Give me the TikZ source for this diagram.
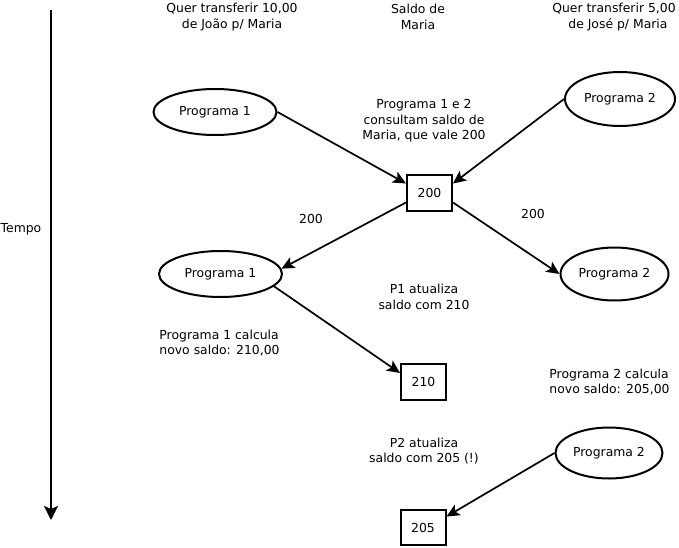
\documentclass[tikz,border=0pt]{standalone}
\usepackage{fontspec}
\setmainfont{DejaVu Sans}
\usetikzlibrary{shapes.geometric,arrows.meta,positioning}

\begin{document}
\begin{tikzpicture}[x=1pt, y=-1pt,
    every node/.style={font=\fontsize{12.4}{15.5}\selectfont, inner sep=0pt},
    prog/.style={draw, ellipse, line width=2pt, minimum width=123pt, minimum height=46pt},
    saldo/.style={draw, rectangle, line width=2pt, minimum width=45pt, minimum height=36pt},
    nota/.style={align=center},
    seta/.style={line width=1.7pt, -{Stealth[length=13pt, width=12pt, inset=3pt]}}]
    \useasboundingbox (0, 0) rectangle (679, 548);

    % eixo do tempo
    \coordinate (t0) at (51, 10);
    \coordinate (t1) at (51, 520);
    \draw [line width=2pt, -{Stealth[length=14pt, width=14pt, inset=3pt]}] (t0) -- (t1);
    \node (tempo) at (21, 229) {Tempo};

    % cabecalhos
    \node [nota] (h1) at (232, 17) {Quer transferir 10,00\\de João p/ Maria};
    \node [nota] (h2) at (418, 17) {Saldo de\\Maria};
    \node [nota] (h3) at (614, 17) {Quer transferir 5,00\\\ \ de José p/ Maria};

    % programas e saldos
    \node [prog] (p1a) at (215, 112) {Programa 1};
    \node [prog, minimum width=110pt, minimum height=54pt] (p2a) at (620, 99) {Programa 2};
    \node [saldo] (s200) at (429.5, 193) {200};
    \node [prog] (p1b) at (220.5, 274) {Programa 1};
    \node [prog, minimum width=108pt, minimum height=53pt] (p2b) at (614.5, 274) {Programa 2};
    \node [saldo] (s210) at (423.5, 382) {210};
    \node [prog, minimum width=107pt, minimum height=51pt] (p2c) at (609, 453) {Programa 2};
    \node [saldo, minimum height=35pt] (s205) at (423, 527.5) {205};

    % notas
    \node [nota] (n1) at (424, 121) {Programa 1 e 2\\consultam saldo de\\Maria, que vale 200};
    \node (v1) at (311, 219) {200};
    \node (v2) at (533, 214) {200};
    \node [nota] (n2) at (424, 297) {P1 atualiza\\saldo com 210};
    \node [align=left] (n3) at (219.5, 343) {Programa 1 calcula\\novo saldo: 210,00};
    \node [align=left] (n4) at (609.5, 382) {Programa 2 calcula\\novo saldo: 205,00};
    \node [nota] (n5) at (424, 451) {P2 atualiza\\saldo com 205 (!)};

    % setas
    \draw [seta] (p1a.east) -- (s200.158);
    \draw [seta] (p2a.west) -- (s200.22);
    \draw [seta] (s200.202) -- (p1b.5);
    \draw [seta] (s200.338) -- (p2b.west);
    \draw [seta] (p1b.-13) -- (s210.159);
    \draw [seta] (p2c.west) -- (s205.25);
\end{tikzpicture}
\end{document}
